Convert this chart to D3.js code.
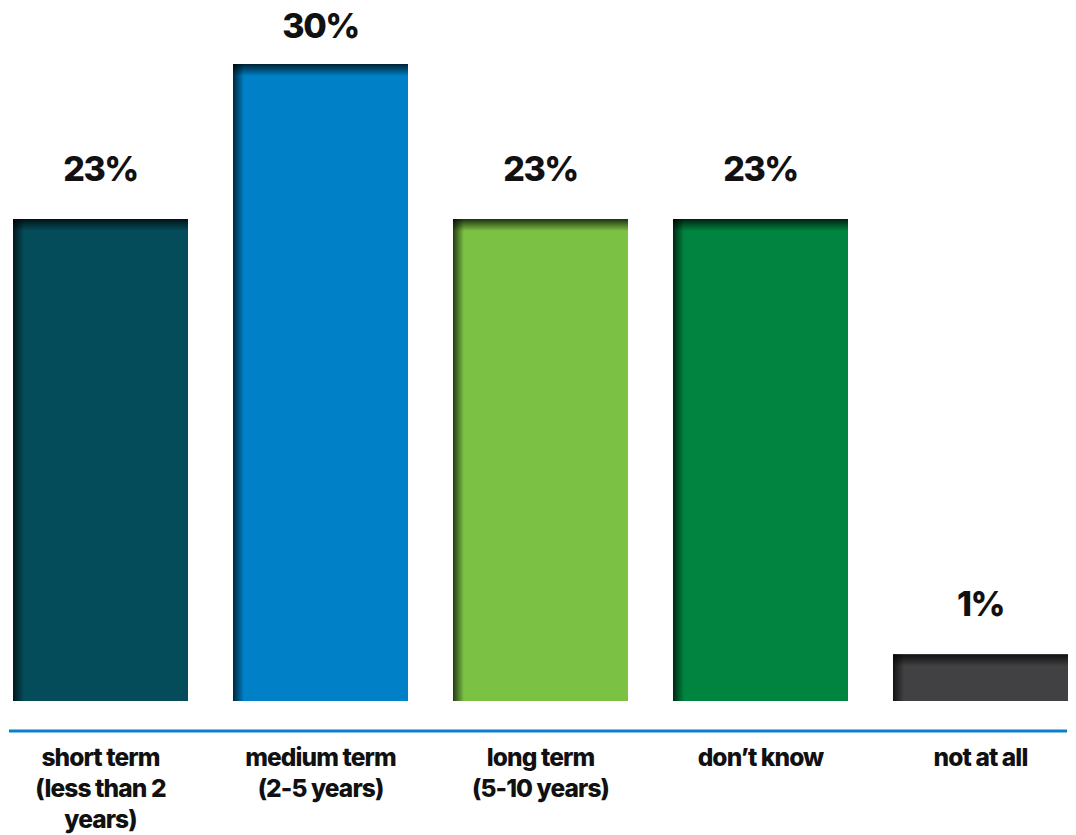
<!DOCTYPE html>
<html>
<head>
<meta charset="utf-8">
<script src="https://cdn.jsdelivr.net/npm/d3@7"></script>
<style>
  body { margin: 0; background: #fff; }
  text { font-family: Inter, Lato, "Open Sans", sans-serif; font-weight: 800; fill: #111; }
</style>
</head>
<body>
<div id="chart-area"></div>
<script>
// data
var categories = [
  ["short term", "(less than 2", "years)"],
  ["medium term", "(2-5 years)"],
  ["long term", "(5-10 years)"],
  ["don\u2019t know"],
  ["not at all"]
];
var values = [22.7, 30, 22.7, 22.7, 2.2];
var labels = ["23%", "30%", "23%", "23%", "1%"];
var colors = ["#044c5a", "#0080c6", "#7bc143", "#00843f", "#414042"];

var width = 1076, height = 835;

var svg = d3.select("#chart-area").append("svg")
	.attr("width", width)
	.attr("height", height);

var x = d3.scaleBand()
	.domain(d3.range(values.length))
	.range([13, 1068])
	.paddingInner(0.2045)
	.paddingOuter(0);

var y = d3.scaleLinear()
	.domain([0, 30])
	.range([701, 64]);

// shadow gradients
var defs = svg.append("defs");
var gTop = defs.append("linearGradient").attr("id", "shTop")
	.attr("x1", 0).attr("y1", 0).attr("x2", 0).attr("y2", 1);
gTop.append("stop").attr("offset", "0%").attr("stop-color", "#000").attr("stop-opacity", 0.75);
gTop.append("stop").attr("offset", "100%").attr("stop-color", "#000").attr("stop-opacity", 0);
var gLeft = defs.append("linearGradient").attr("id", "shLeft")
	.attr("x1", 0).attr("y1", 0).attr("x2", 1).attr("y2", 0);
gLeft.append("stop").attr("offset", "0%").attr("stop-color", "#000").attr("stop-opacity", 0.7);
gLeft.append("stop").attr("offset", "100%").attr("stop-color", "#000").attr("stop-opacity", 0);

var bars = svg.selectAll(".bar").data(values).enter().append("g").attr("class", "bar");

bars.append("rect")
	.attr("x", function(d, i) { return x(i); })
	.attr("y", function(d) { return y(d); })
	.attr("width", x.bandwidth())
	.attr("height", function(d) { return y(0) - y(d); })
	.attr("fill", function(d, i) { return colors[i]; });

// left inner shadow
bars.append("rect")
	.attr("x", function(d, i) { return x(i); })
	.attr("y", function(d) { return y(d); })
	.attr("width", 11)
	.attr("height", function(d) { return y(0) - y(d); })
	.attr("fill", "url(#shLeft)");

// top inner shadow
bars.append("rect")
	.attr("x", function(d, i) { return x(i); })
	.attr("y", function(d) { return y(d); })
	.attr("width", x.bandwidth())
	.attr("height", 12)
	.attr("fill", "url(#shTop)");

// value labels
svg.selectAll(".val").data(values).enter().append("text")
	.attr("class", "val")
	.attr("x", function(d, i) { return x(i) + x.bandwidth() / 2; })
	.attr("y", function(d) { return Math.max(y(d) - 38, 38); })
	.attr("text-anchor", "middle")
	.style("font-size", "34px")
	.style("letter-spacing", "-1.5px")
	.text(function(d, i) { return labels[i]; });

// axis line
svg.append("line")
	.attr("x1", 9).attr("x2", 1067)
	.attr("y1", 731).attr("y2", 731)
	.attr("stroke", "#0a80c8")
	.attr("stroke-width", 3);

// category labels
var cat = svg.selectAll(".cat").data(categories).enter().append("text")
	.attr("class", "cat")
	.attr("text-anchor", "middle")
	.style("font-size", "24.5px")
	.style("letter-spacing", "-0.9px")
	.attr("transform", function(d, i) { return "translate(" + (x(i) + x.bandwidth() / 2) + ",766)"; });

cat.selectAll("tspan").data(function(d) { return d; }).enter().append("tspan")
	.attr("x", 0)
	.attr("dy", function(d, j) { return j === 0 ? 0 : 31; })
	.text(function(d) { return d; });
</script>
</body>
</html>
